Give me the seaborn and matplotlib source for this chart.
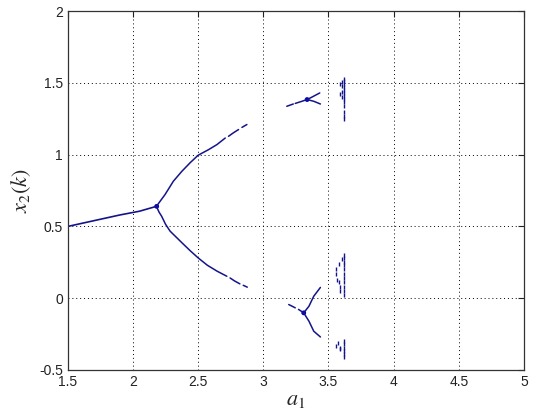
import numpy as np
import pandas as pd
import matplotlib
matplotlib.use('Agg')
import matplotlib.pyplot as plt
import seaborn as sns

# --- values ---
# stable fixed point branch
a_fix = [1.50, 1.70, 1.90, 2.05, 2.18]
x_fix = [0.50, 0.54, 0.58, 0.606, 0.64]

# period-2 branches (segment id marks small gaps near the end)
a_p2_up = [2.18, 2.208, 2.246, 2.31, 2.375, 2.44, 2.50, 2.58, 2.644, 2.708,
           2.733, 2.77, 2.81, 2.836, 2.874]
x_p2_up = [0.64, 0.675, 0.722, 0.815, 0.884, 0.945, 0.996, 1.035, 1.07, 1.116,
           1.128, 1.152, 1.175, 1.19, 1.21]
s_p2_up = [0, 0, 0, 0, 0, 0, 0, 0, 0, 0, 1, 1, 1, 2, 2]

a_p2_lo = [2.18, 2.20, 2.22, 2.25, 2.285, 2.377, 2.44, 2.50, 2.57, 2.646,
           2.72, 2.745, 2.78, 2.82, 2.846, 2.877]
x_p2_lo = [0.64, 0.60, 0.571, 0.515, 0.467, 0.385, 0.33, 0.281, 0.23, 0.188,
           0.153, 0.141, 0.12, 0.10, 0.09, 0.077]
s_p2_lo = [0, 0, 0, 0, 0, 0, 0, 0, 0, 0, 0, 1, 1, 1, 2, 2]

# period-4 window, upper piece
a_p4u_stem = [3.18, 3.23, 3.245, 3.29, 3.336]
x_p4u_stem = [1.337, 1.353, 1.357, 1.37, 1.384]
s_p4u_stem = [0, 0, 1, 1, 1]
a_p4u_arm1 = [3.336, 3.375, 3.433]
x_p4u_arm1 = [1.384, 1.402, 1.43]
a_p4u_arm2 = [3.336, 3.387, 3.438]
x_p4u_arm2 = [1.384, 1.372, 1.353]

# period-4 window, lower piece
a_p4l_stem = [3.195, 3.245, 3.27, 3.31]
x_p4l_stem = [-0.044, -0.067, -0.078, -0.102]
s_p4l_stem = [0, 0, 1, 1]
a_p4l_arm1 = [3.31, 3.35, 3.387, 3.438]
x_p4l_arm1 = [-0.102, -0.056, 0.014, 0.075]
a_p4l_arm2 = [3.31, 3.35, 3.387, 3.438]
x_p4l_arm2 = [-0.102, -0.16, -0.23, -0.27]

# scattered points near the chaotic edge (a ~ 3.55 - 3.62)
a_chaos = [3.62, 3.62, 3.62, 3.62, 3.62, 3.62, 3.62, 3.62, 3.62, 3.62,
           3.59, 3.60, 3.60, 3.59, 3.60, 3.60, 3.62, 3.62, 3.62,
           3.617, 3.617, 3.617, 3.617, 3.617, 3.617, 3.617, 3.617, 3.617,
           3.617, 3.617, 3.605, 3.58, 3.56, 3.555, 3.565, 3.58, 3.59, 3.59,
           3.617, 3.617, 3.617, 3.617, 3.617, 3.617, 3.56, 3.575, 3.585, 3.59]
x_chaos = [1.525, 1.51, 1.49, 1.47, 1.45, 1.43, 1.41, 1.385, 1.365, 1.34,
           1.49, 1.505, 1.475, 1.42, 1.435, 1.405, 1.30, 1.27, 1.245,
           0.30, 0.28, 0.255, 0.23, 0.20, 0.17, 0.14, 0.11, 0.08, 0.05,
           0.02, 0.27, 0.24, 0.20, 0.17, 0.13, 0.11, 0.08, 0.05,
           -0.30, -0.32, -0.345, -0.37, -0.39, -0.41, -0.33, -0.315, -0.345,
           -0.355]

# dense spots at the branching points
a_knot = [2.182, 3.336, 3.31]
x_knot = [0.64, 1.384, -0.102]

x_ticks = [1.5, 2, 2.5, 3, 3.5, 4, 4.5, 5]
y_ticks = [-0.5, 0, 0.5, 1, 1.5, 2]

line_color = '#14148a'

sns.set_style('white')
plt.rcParams['font.family'] = ['Liberation Sans', 'DejaVu Sans']
plt.rcParams['mathtext.fontset'] = 'stix'

fig = plt.figure(figsize=(5.38, 4.12), dpi=100)
ax = fig.add_axes([0.126, 0.102, 0.848, 0.871])


def draw_branch(a, x, seg=None, lw=1.1):
    if seg is None:
        seg = [0] * len(a)
    df = pd.DataFrame({'a': a, 'x': x, 'seg': seg})
    sns.lineplot(data=df, x='a', y='x', units='seg', estimator=None,
                 sort=False, color=line_color, linewidth=lw, ax=ax,
                 legend=False)


draw_branch(a_fix, x_fix, lw=1.2)
draw_branch(a_p2_up, x_p2_up, s_p2_up)
draw_branch(a_p2_lo, x_p2_lo, s_p2_lo)
draw_branch(a_p4u_stem, x_p4u_stem, s_p4u_stem)
draw_branch(a_p4u_arm1, x_p4u_arm1)
draw_branch(a_p4u_arm2, x_p4u_arm2)
draw_branch(a_p4l_stem, x_p4l_stem, s_p4l_stem)
draw_branch(a_p4l_arm1, x_p4l_arm1)
draw_branch(a_p4l_arm2, x_p4l_arm2)

sns.scatterplot(x=a_chaos, y=x_chaos, marker='|', s=6, color=line_color,
                linewidth=1.0, ax=ax)
sns.scatterplot(x=a_knot, y=x_knot, marker='o', s=12, color='#0000c8',
                edgecolor='none', ax=ax)

ax.set_xlim(1.5, 5)
ax.set_ylim(-0.5, 2)
ax.set_xticks(x_ticks)
ax.set_yticks(y_ticks)
ax.set_xticklabels([f'{t:g}' for t in x_ticks])
ax.set_yticklabels([f'{t:g}' for t in y_ticks])
ax.grid(True, linestyle=(0, (1, 3)), color='black', linewidth=0.7)
ax.tick_params(direction='in', top=True, right=True, length=4,
               labelsize=10, colors='#222222', width=0.8)
for sp in ax.spines.values():
    sp.set_color('#333333')
    sp.set_linewidth(0.9)

ax.set_xlabel(r'$a_1$', fontsize=16, labelpad=0)
ax.set_ylabel(r'$x_2(k)$', fontsize=16, labelpad=4)

fig.savefig('out.png', dpi=100)
